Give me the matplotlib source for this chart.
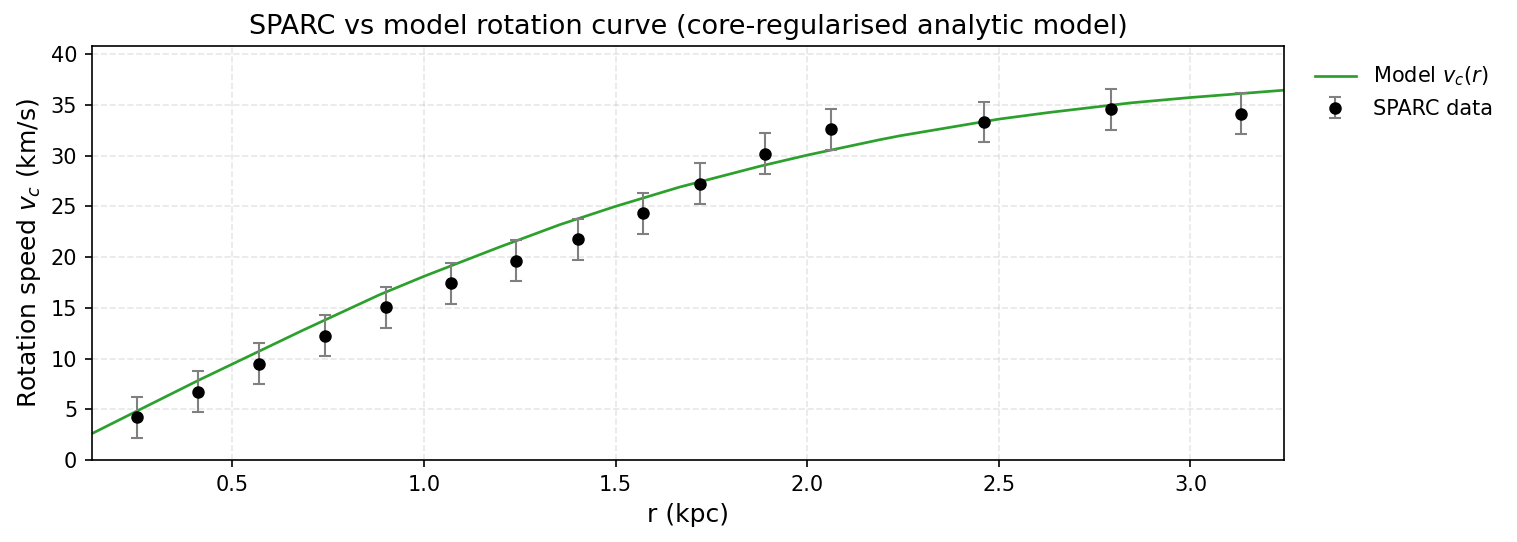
import numpy as np
import matplotlib
matplotlib.use("Agg")
import matplotlib.pyplot as plt

# SPARC data points
r_obs = [0.252, 0.411, 0.571, 0.743, 0.900, 1.071, 1.240, 1.402, 1.572,
         1.720, 1.891, 2.062, 2.461, 2.792, 3.131]
v_obs = [4.2, 6.75, 9.5, 12.25, 15.05, 17.4, 19.65, 21.75, 24.3,
         27.25, 30.2, 32.6, 33.3, 34.55, 34.15]
v_err = [2.0] * 15

# model curve samples
r_model = [0.134, 0.25, 0.416, 0.5, 0.685, 0.885, 1.0, 1.198, 1.355, 1.5,
           1.667, 1.876, 2.0, 2.187, 2.241, 2.5, 2.63, 2.844, 3.0, 3.244]
v_model = [2.6, 4.8, 7.93, 9.45, 12.8, 16.3, 18.1, 21.0, 23.2, 25.0,
           26.9, 28.95, 30.05, 31.55, 31.95, 33.6, 34.25, 35.2, 35.73, 36.45]

fig, ax = plt.subplots(figsize=(1517 / 150, 542 / 150), dpi=150)
fig.subplots_adjust(left=0.0606, right=0.8464, bottom=0.1513, top=0.915)

ax.plot(r_model, v_model, color="#2ca02c", linewidth=1.3, label=r"Model $v_c(r)$")
ax.errorbar(r_obs, v_obs, yerr=v_err, fmt="o", color="black", markersize=5,
            ecolor="gray", elinewidth=1.0, capsize=3, label="SPARC data")

ax.set_xlim(0.134, 3.244)
ax.set_ylim(0, 40.8)
ax.set_xlabel("r (kpc)", fontsize=12)
ax.set_ylabel(r"Rotation speed $v_c$ (km/s)", fontsize=12)
ax.set_title("SPARC vs model rotation curve (core-regularised analytic model)", fontsize=13)
ax.grid(True, linestyle="--", alpha=0.3)

ax.legend(loc="upper left", bbox_to_anchor=(1.01, 1.0), frameon=False)

fig.savefig("out.png", dpi=150)
